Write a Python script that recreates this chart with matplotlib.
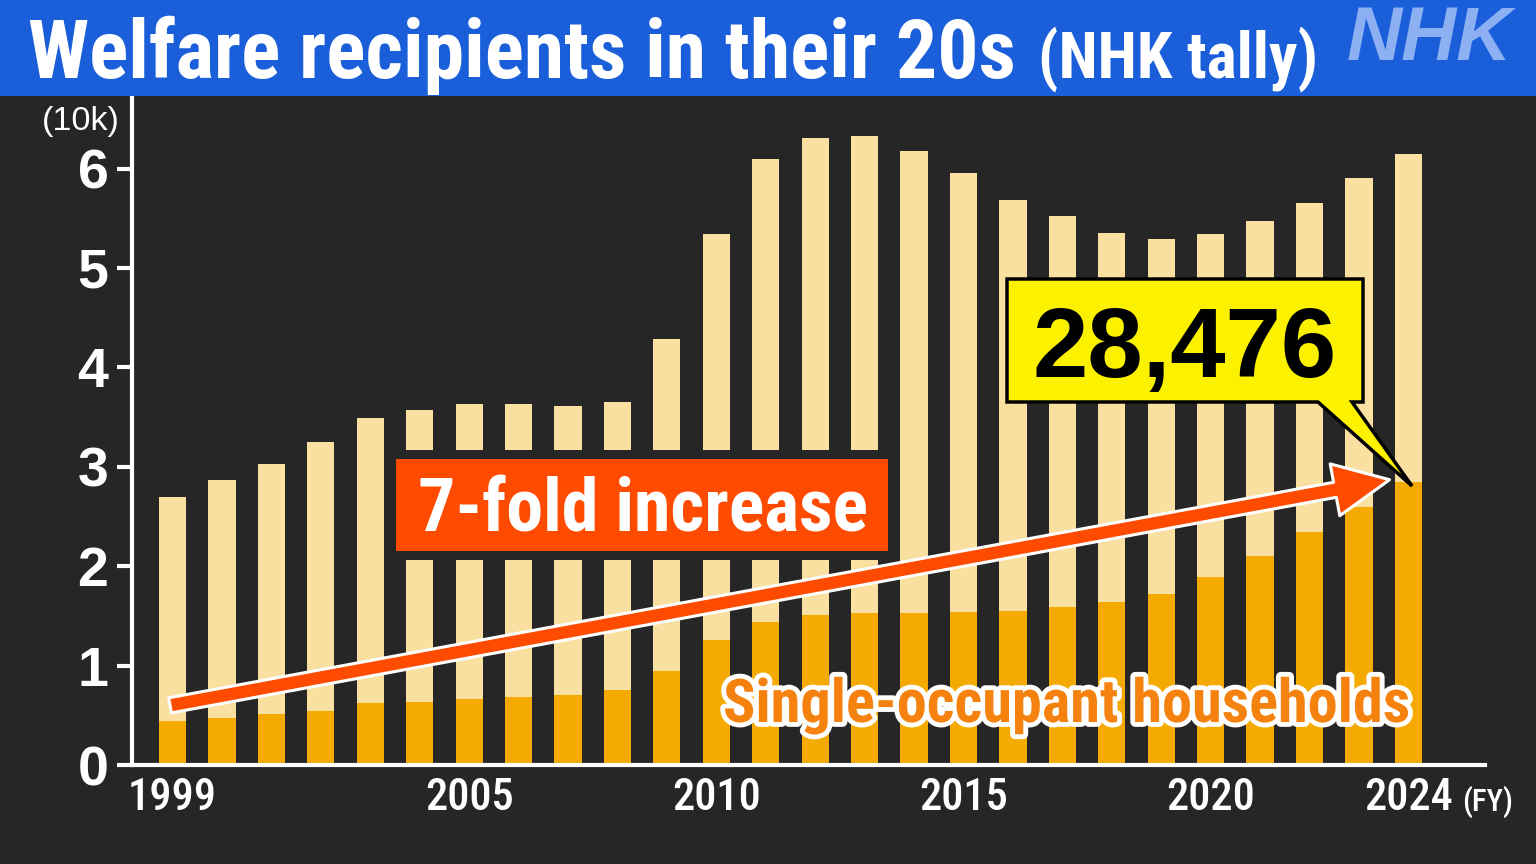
import matplotlib
matplotlib.use("Agg")
import matplotlib.pyplot as plt
import matplotlib.patheffects as pe
from matplotlib import font_manager as fm
from matplotlib.patches import FancyArrowPatch, Polygon, Rectangle
from matplotlib.transforms import Affine2D
import numpy as np

# ---------------- data ----------------
years = list(range(1999, 2025))
total = [2.70, 2.87, 3.03, 3.25, 3.49, 3.57, 3.63, 3.63, 3.61, 3.65, 4.29, 5.34, 6.10,
         6.31, 6.33, 6.18, 5.96, 5.68, 5.52, 5.35, 5.29, 5.34, 5.47, 5.65, 5.91, 6.15]
single = [0.44, 0.476, 0.51, 0.546, 0.62, 0.634, 0.667, 0.68, 0.70, 0.75, 0.95, 1.26, 1.44,
          1.51, 1.53, 1.53, 1.54, 1.55, 1.59, 1.64, 1.72, 1.89, 2.10, 2.34, 2.60, 2.8476]
xtick_years = [1999, 2005, 2010, 2015, 2020, 2024]
yticks = [0, 1, 2, 3, 4, 5, 6]
title_main = "Welfare recipients in their 20s"
title_sub = "(NHK tally)"
callout_text = "28,476"
arrow_text = "7-fold increase"
series_label = "Single-occupant households"

# ---------------- fonts ----------------
PREF = ["roboto condensed", "liberation sans narrow", "open sans condensed",
        "dejavu sans condensed", "noto sans condensed", "arial narrow"]


def _weight(f):
    if isinstance(f.weight, int):
        return f.weight
    w = str(f.weight).lower()
    if "bold" in w:
        return 700
    if "medium" in w:
        return 500
    return 400


def pick_condensed(target_w):
    best = None
    for f in fm.fontManager.ttflist:
        nm = f.name.lower()
        fn = f.fname.lower()
        is_cond = ("condensed" in nm or "narrow" in nm or "condensed" in fn or "narrow" in fn
                   or str(f.stretch) in ("condensed", "semi-condensed", "extra-condensed"))
        if not is_cond or f.style != "normal":
            continue
        if "semi" in fn or "extra" in fn or "light" in fn or "thin" in fn or "black" in fn:
            continue
        w = _weight(f)
        rank = len(PREF)
        for i, p in enumerate(PREF):
            if p in nm or p.replace(" ", "") in fn.replace("-", "").replace("_", ""):
                rank = i
                break
        key = (rank, abs(w - target_w))
        if best is None or key < best[0]:
            best = (key, f.fname)
    if best is None:
        return fm.FontProperties(family=["Liberation Sans", "DejaVu Sans"],
                                 weight="bold" if target_w >= 600 else "normal")
    return fm.FontProperties(fname=best[1])


COND_B = pick_condensed(700)
COND_M = pick_condensed(500)
SANS_R = fm.FontProperties(family=["Liberation Sans", "DejaVu Sans"], weight="normal")
SANS_B = fm.FontProperties(family=["Liberation Sans", "DejaVu Sans"], weight="bold")
SANS_BI = fm.FontProperties(family=["Liberation Sans", "DejaVu Sans"], weight="bold",
                            style="italic")

# ---------------- style ----------------
BG = "#262626"
BLUE = "#1A5FD9"
LIGHT = "#F9E0A0"
DARK = "#F4AA00"
RED = "#FF4B00"
YELLOW = "#FCF200"

W, H = 1536, 864
fig = plt.figure(figsize=(W / 100, H / 100), dpi=100, facecolor=BG)
PX = Affine2D().scale(1 / W, -1 / H).translate(0, 1) + fig.transFigure
renderer = fig.canvas.get_renderer()


def fx(x):
    return x / W


def fy(y):
    return 1 - y / H


def fit(t, target_w, max_size=None):
    for _ in range(3):
        w = t.get_window_extent(renderer).width
        s = t.get_fontsize() * target_w / w
        if max_size is not None:
            s = min(s, max_size)
        t.set_fontsize(s)
    return t


def mk(x, y, s, fp, size, target_w, max_size=None, **kw):
    t = fig.text(fx(x), fy(y), s, fontproperties=fp, **kw)
    t.set_fontsize(size)
    fit(t, target_w, max_size)
    return t


# title band
fig.patches.append(Rectangle((0, 0), W, 96, transform=PX, fc=BLUE, ec="none", zorder=0))
mk(28, 78, title_main, COND_B, 57, 987, 84, color="white", va="baseline", ha="left")
mk(1038, 78, title_sub, COND_B, 44, 280, 62, color="white", va="baseline", ha="left")
mk(1512, 60, "NHK", SANS_BI, 52, 165, 68, color="#8DB0F2", va="baseline", ha="right")

# axes
y0, y1 = 765, 97
ax = fig.add_axes([fx(132), fy(y0), fx(1485) - fx(132), fy(y1) - fy(y0)])
ax.set_facecolor(BG)
ax.set_xlim(1998.18, 2025.55)
ax.set_ylim(0, 6.72)

single_a = np.array(single)
total_a = np.array(total)
ax.bar(years, single_a, width=0.55, color=DARK, zorder=2)
ax.bar(years, total_a - single_a, bottom=single_a, width=0.55, color=LIGHT, zorder=2)

for s in ["top", "right"]:
    ax.spines[s].set_visible(False)
for s in ["left", "bottom"]:
    ax.spines[s].set_color("white")
    ax.spines[s].set_linewidth(3)
    ax.spines[s].set_zorder(5)

ax.set_yticks(yticks)
ax.set_yticklabels([str(v) for v in yticks], fontproperties=SANS_B, color="white")
for lab in ax.get_yticklabels():
    lab.set_fontsize(40)
ax.tick_params(axis="y", length=11, width=3, color="white", pad=6)

ax.set_xticks(xtick_years)
ax.set_xticklabels([str(v) for v in xtick_years], fontproperties=COND_M, color="white")
# size x tick labels so "1999" is ~89 px wide
probe = fig.text(0, 0, "1999", fontproperties=COND_M)
probe.set_fontsize(34)
fit(probe, 89, 48)
xsize = probe.get_fontsize()
probe.remove()
for lab in ax.get_xticklabels():
    lab.set_fontsize(xsize)
ax.tick_params(axis="x", length=0, pad=9)

mk(120, 130, "(10k)", SANS_R, 25, 78, 34, color="white", ha="right", va="baseline")
mk(1513, 811, "(FY)", COND_M, 24, 51, 33, color="white", ha="right", va="baseline")

# callout box with tail
callout = Polygon([(1007, 279), (1363, 279), (1363, 402), (1352, 402), (1412, 486),
                   (1318, 402), (1007, 402)], closed=True, transform=PX, fc=YELLOW,
                  ec="black", lw=2.5, joinstyle="miter", zorder=6)
fig.patches.append(callout)
mk(1185, 377, callout_text, SANS_B, 74, 304, 80, color="black", ha="center",
   va="baseline", zorder=7)

# arrow
arr = FancyArrowPatch(posA=(1998.95, 0.60), posB=(2023.62, 2.87),
                      arrowstyle="simple,head_length=2.0,head_width=1.9,tail_width=0.55",
                      mutation_scale=20, fc=RED, ec="white", lw=2.2, shrinkA=0, shrinkB=0,
                      zorder=8, transform=ax.transData)
fig.patches.append(arr)

# 7-fold box
fig.patches.append(Rectangle((386, 450), 512, 110, transform=PX, fc=BG, ec="none", zorder=6))
fig.patches.append(Rectangle((396, 459), 492, 92, transform=PX, fc=RED, ec="none", zorder=7))
mk(643, 532, arrow_text, COND_B, 56, 450, 80, color="white", ha="center",
   va="baseline", zorder=8)

# series label
mk(1410, 722, series_label, COND_B, 45, 688, 64, color="#F5820F", ha="right",
   va="baseline", zorder=8, path_effects=[pe.withStroke(linewidth=7, foreground="white")])

fig.savefig("out.png", dpi=100, facecolor=BG)
